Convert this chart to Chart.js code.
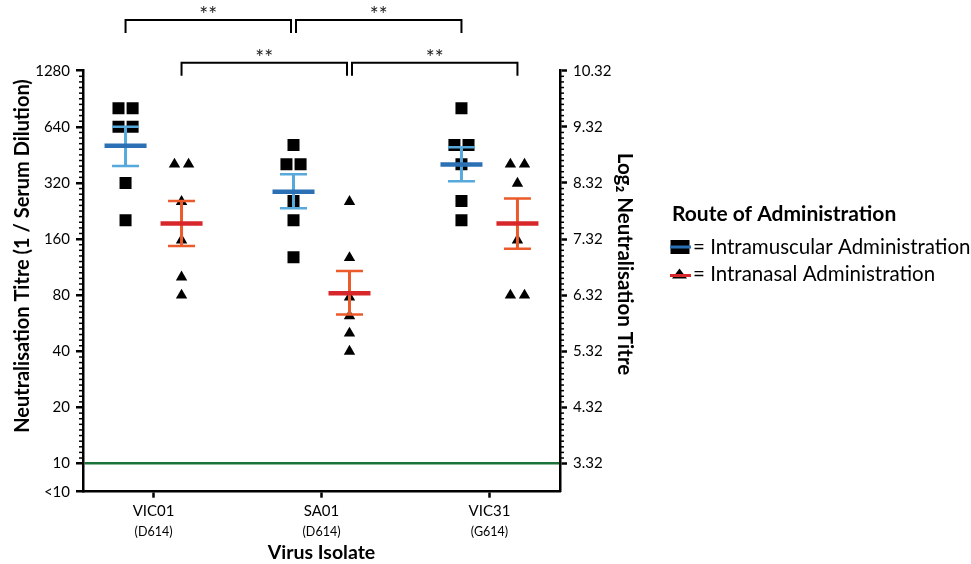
<!DOCTYPE html>
<html><head><meta charset="utf-8">
<script src="https://cdn.jsdelivr.net/npm/chart.js@4/dist/chart.umd.min.js"></script>
<style>html,body{margin:0;padding:0;background:#fff;}canvas{display:block;}</style>
</head><body>
<canvas id="c" width="971" height="564"></canvas>
<script>
// ---------- data ----------
const categories = ['VIC01', 'SA01', 'VIC31'];
const variants = ['(D614)', '(D614)', '(G614)'];
const seriesNames = ['Intramuscular Administration', 'Intranasal Administration'];

// individual titres (1 / serum dilution)
const imTitres = [
  [806, 806, 640, 640, 320, 202],
  [512, 403, 403, 256, 202, 128],
  [806, 512, 512, 403, 256, 202]
];
const inTitres = [
  [403, 403, 254, 158, 100, 80],
  [254, 127, 78, 62, 50, 40],
  [403, 403, 318, 158, 80, 80]
];
// geometric means with error bar ends
const imMean  = [506, 287, 402];
const imUpper = [640, 356, 498];
const imLower = [394, 234, 327];
const inMean  = [194, 82, 194];
const inUpper = [256, 108, 264];
const inLower = [147, 63, 142];

const leftTicks = [10, 20, 40, 80, 160, 320, 640, 1280];
const belowDetection = '<10';
const rightTicks = [3.32, 4.32, 5.32, 6.32, 7.32, 8.32, 9.32, 10.32];

// significance comparisons: [category, series] -> [category, series]
const compFrom = [[0, 0], [1, 0], [0, 1], [1, 1]];
const compTo   = [[1, 0], [2, 0], [1, 1], [2, 1]];
const compLabel = ['**', '**', '**', '**'];

const titleLeft = 'Neutralisation Titre (1 / Serum Dilution)';
const titleRight = 'Log\u2082 Neutralisation Titre';
const titleX = 'Virus Isolate';
const legendTitle = 'Route of Administration';

// ---------- style ----------
const FONT = 'Lato, "Open Sans", sans-serif';
const BLUE = '#2b6fb4', BLUE_ERR = '#56a9da';
const RED = '#d8272a', RED_ERR = '#ea5a2b';
const GREEN = '#1b7339';
const GROUP_OFF = 1 / 6;
const PAIR_OFF = 0.042;
const LOWEST = 10 / Math.SQRT2;

function groupX(c, s) { return c + 1 + (s === 0 ? -GROUP_OFF : GROUP_OFF); }

function jittered(groups, s) {
  const pts = [];
  groups.forEach((vals, c) => {
    vals.forEach((v, i) => {
      const same = vals.map((w, j) => [w, j]).filter(p => p[0] === v).map(p => p[1]);
      const n = same.length, rank = same.indexOf(i);
      const dx = n > 1 ? (rank - (n - 1) / 2) * 2 * PAIR_OFF : 0;
      pts.push({ x: groupX(c, s) + dx, y: v });
    });
  });
  return pts;
}
function meanPts(arr, s) { return arr.map((v, c) => ({ x: groupX(c, s), y: v })); }
function capPts(up, lo, s) {
  const p = [];
  up.forEach((v, c) => { p.push({ x: groupX(c, s), y: v }); p.push({ x: groupX(c, s), y: lo[c] }); });
  return p;
}
function stemPts(up, lo, s) {
  const p = [];
  up.forEach((v, c) => {
    p.push({ x: groupX(c, s), y: lo[c] });
    p.push({ x: groupX(c, s), y: v });
    p.push({ x: groupX(c, s), y: null });
  });
  return p;
}

const datasets = [
  { label: 'im-mean', data: meanPts(imMean, 0), pointStyle: 'line', pointRadius: 21, borderWidth: 4.5, borderColor: BLUE, backgroundColor: BLUE },
  { label: 'in-mean', data: meanPts(inMean, 1), pointStyle: 'line', pointRadius: 21, borderWidth: 4.5, borderColor: RED, backgroundColor: RED },
  { label: 'im-cap', data: capPts(imUpper, imLower, 0), pointStyle: 'line', pointRadius: 13.5, borderWidth: 2.5, borderColor: BLUE_ERR, backgroundColor: BLUE_ERR },
  { label: 'in-cap', data: capPts(inUpper, inLower, 1), pointStyle: 'line', pointRadius: 13.5, borderWidth: 2.5, borderColor: RED_ERR, backgroundColor: RED_ERR },
  { label: 'im-stem', data: stemPts(imUpper, imLower, 0), showLine: true, spanGaps: false, pointRadius: 0, borderWidth: 3, borderColor: BLUE_ERR },
  { label: 'in-stem', data: stemPts(inUpper, inLower, 1), showLine: true, spanGaps: false, pointRadius: 0, borderWidth: 3, borderColor: RED_ERR },
  { label: seriesNames[0], data: jittered(imTitres, 0), pointStyle: 'rect', pointRadius: 8.5, borderWidth: 0, backgroundColor: '#000' },
  { label: seriesNames[1], data: jittered(inTitres, 1), pointStyle: 'triangle', pointRadius: 6.6, borderWidth: 0, backgroundColor: '#000' }
];

// ---------- plugins ----------
const decorations = {
  id: 'decorations',
  afterDraw(chart) {
    const ctx = chart.ctx, ca = chart.chartArea;
    const y = chart.scales.y, y2 = chart.scales.y2, x = chart.scales.x;
    ctx.save();
    // minor ticks
    ctx.strokeStyle = '#000'; ctx.lineWidth = 1.5;
    for (let k = 1; k < 70; k++) {
      if (k % 10 === 0) continue;
      const py = y.getPixelForValue(10 * Math.pow(2, k / 10));
      ctx.beginPath(); ctx.moveTo(ca.left - 4, py); ctx.lineTo(ca.left, py); ctx.stroke();
      const py2 = y2.getPixelForValue(Math.log2(10) + k / 10);
      ctx.beginPath(); ctx.moveTo(ca.right, py2); ctx.lineTo(ca.right + 4, py2); ctx.stroke();
    }
    // sub labels of x categories
    ctx.fillStyle = '#000';
    ctx.textAlign = 'center'; ctx.textBaseline = 'middle';
    ctx.font = '12.5px ' + FONT;
    variants.forEach((v, i) => ctx.fillText(v, x.getPixelForValue(i + 1), 531.5));
    ctx.font = 'bold 19.5px ' + FONT;
    ctx.fillText(titleX, (ca.left + ca.right) / 2, 553);
    // axis titles
    ctx.font = 'bold 20px ' + FONT;
    ctx.save(); ctx.translate(23, 256); ctx.rotate(-Math.PI / 2);
    ctx.fillText(titleLeft, 0, 0); ctx.restore();
    ctx.font = 'bold 20.5px ' + FONT;
    ctx.save(); ctx.translate(625, 264); ctx.rotate(Math.PI / 2);
    ctx.fillText(titleRight, 0, 0); ctx.restore();
    // significance brackets
    const tierY = [20, 62.7];
    ctx.lineWidth = 2; ctx.strokeStyle = '#000';
    compFrom.forEach((f, i) => {
      const t = compTo[i];
      const tier = f[1];
      let x1 = x.getPixelForValue(groupX(f[0], f[1]));
      let x2 = x.getPixelForValue(groupX(t[0], t[1]));
      if (compTo.some(o => o[0] === f[0] && o[1] === f[1])) x1 += 2.5;
      if (compFrom.some(o => o[0] === t[0] && o[1] === t[1])) x2 -= 2.5;
      const yl = tierY[tier];
      ctx.beginPath();
      ctx.moveTo(x1, yl + 13); ctx.lineTo(x1, yl); ctx.lineTo(x2, yl); ctx.lineTo(x2, yl + 13);
      ctx.stroke();
      ctx.font = '21px ' + FONT;
      ctx.fillStyle = '#222';
      ctx.fillText(compLabel[i], (x1 + x2) / 2, yl - 4.5);
      ctx.fillStyle = '#000';
    });
    // legend
    ctx.textAlign = 'left';
    ctx.font = 'bold 21px ' + FONT;
    ctx.fillText(legendTitle, 672, 214.5);
    ctx.font = '20.5px ' + FONT;
    // item 1
    ctx.fillStyle = '#000'; ctx.fillRect(670.5, 240, 19, 14);
    ctx.fillStyle = BLUE; ctx.fillRect(670, 245.5, 21, 3);
    ctx.fillStyle = '#000'; ctx.fillText('= ' + seriesNames[0], 693, 247);
    // item 2
    ctx.beginPath(); ctx.moveTo(679.5, 268.5); ctx.lineTo(687, 278.5); ctx.lineTo(672, 278.5); ctx.closePath(); ctx.fill();
    ctx.fillStyle = RED; ctx.fillRect(670, 274, 21, 3);
    ctx.fillStyle = '#000'; ctx.fillText('= ' + seriesNames[1], 693, 274.5);
    ctx.restore();
  }
};

new Chart(document.getElementById('c'), {
  type: 'scatter',
  data: { datasets },
  plugins: [decorations],
  options: {
    responsive: false,
    animation: false,
    layout: { padding: { top: 70.7, left: 0, right: 0, bottom: 0 } },
    plugins: { legend: { display: false }, tooltip: { enabled: false } },
    scales: {
      x: {
        type: 'linear', min: 0.58, max: 3.42,
        afterBuildTicks: s => { s.ticks = categories.map((c, i) => ({ value: i + 1 })); },
        afterFit: s => { s.height = 72.3; },
        ticks: { callback: v => categories[v - 1], font: { family: FONT, size: 15 }, color: '#000', padding: 4, autoSkip: false, maxRotation: 0 },
        grid: { drawOnChartArea: false, tickLength: 6, tickColor: '#000', tickWidth: 2.5 },
        border: { color: '#000', width: 2.5 }
      },
      y: {
        type: 'logarithmic', position: 'left', min: LOWEST, max: 1280,
        afterBuildTicks: s => { s.ticks = [LOWEST].concat(leftTicks).map(v => ({ value: v })); },
        afterFit: s => { s.width = 83; },
        ticks: { callback: v => (v < 10 ? belowDetection : String(v)), font: { family: FONT, size: 15 }, color: '#000', padding: 6, autoSkip: false },
        grid: {
          drawOnChartArea: true, tickLength: 7, tickWidth: 2.5, tickColor: '#000',
          color: c => (c.tick && c.tick.value === 10 ? GREEN : 'rgba(0,0,0,0)'), lineWidth: 2.5
        },
        border: { color: '#000', width: 2.5 }
      },
      y2: {
        type: 'linear', position: 'right', min: Math.log2(LOWEST), max: Math.log2(1280),
        afterBuildTicks: s => { s.ticks = rightTicks.map(v => ({ value: Math.log2(10) + (v - 3.32) })); },
        afterFit: s => { s.width = 411; },
        ticks: { callback: v => v.toFixed(2), font: { family: FONT, size: 15 }, color: '#000', padding: 6, autoSkip: false },
        grid: { drawOnChartArea: false, tickLength: 7, tickWidth: 2.5, tickColor: '#000' },
        border: { color: '#000', width: 2.5 }
      }
    }
  }
});
</script>
</body></html>
